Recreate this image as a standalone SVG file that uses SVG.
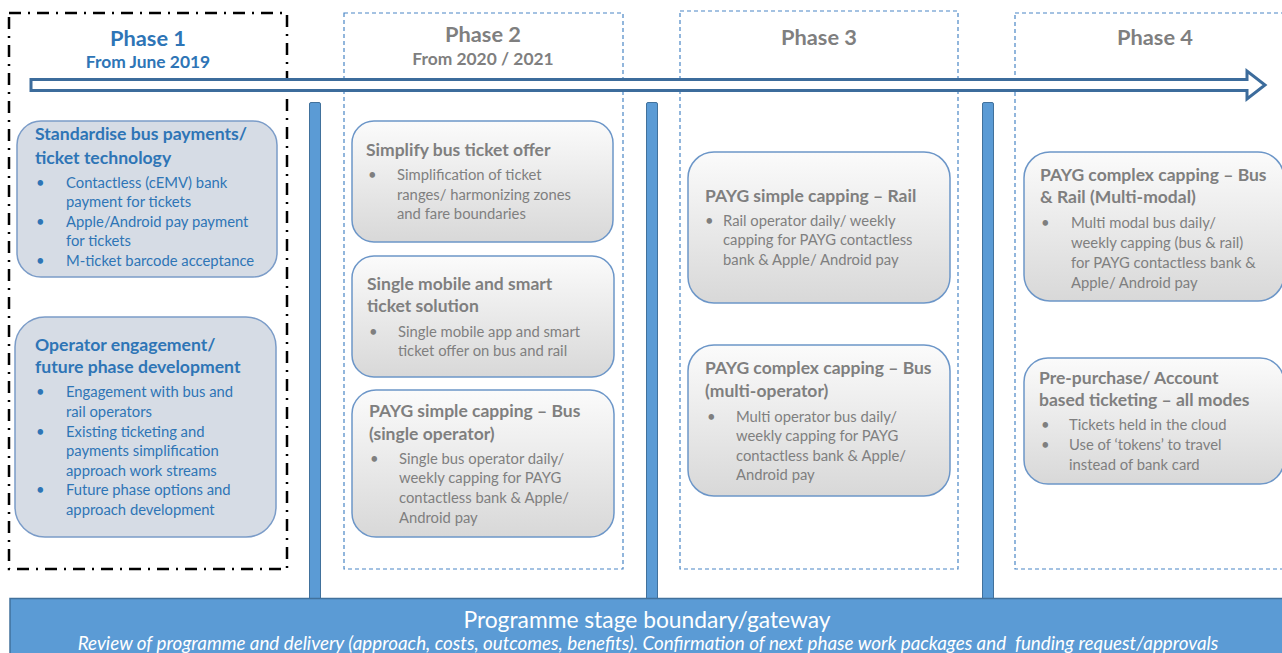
<svg xmlns="http://www.w3.org/2000/svg" width="1282" height="653" viewBox="0 0 1282 653">
  <defs>
    <linearGradient id="grey-fill" x1="0" y1="0" x2="0" y2="1">
      <stop offset="0" stop-color="#fbfbfb"/>
      <stop offset="1" stop-color="#d8d8d8"/>
    </linearGradient>
    <style>
      .phase-frame { fill: none; stroke: #4a86c5; stroke-width: 1.2; stroke-dasharray: 4 3; }
      .phase1-frame { fill: none; stroke: #000; stroke-width: 2.5; stroke-dasharray: 12 7 2 7; }
      .bar { fill: #5b9bd5; stroke: #41719c; stroke-width: 1; }
      .card-blue { fill: #d6dce5; stroke: #7b9cc8; stroke-width: 1.5; }
      .card-grey { fill: url(#grey-fill); stroke: #6c96c8; stroke-width: 1.5; }
      text { font-family: Lato, "Liberation Sans", sans-serif; }
      .ph-blue { fill: #2e75b6; font-weight: bold; text-anchor: middle; }
      .ph-grey { fill: #7f7f7f; font-weight: bold; text-anchor: middle; }
      .t-blue { fill: #2e75b6; font-weight: bold; font-size: 17.6px; }
      .b-blue { fill: #2e75b6; font-size: 14.8px; }
      .t-grey { fill: #7f7f7f; font-weight: bold; font-size: 17.5px; }
      .b-grey { fill: #7f7f7f; font-size: 14.8px; }
      .gate-title { fill: #fff; font-size: 22.8px; text-anchor: middle; }
      .gate-sub { fill: #fff; font-size: 18.8px; font-style: italic; text-anchor: middle; white-space: pre; }
    </style>
  </defs>

  <rect width="1282" height="653" fill="#fff"/>

  <!-- phase frames -->
  <g id="phase-frames">
    <rect class="phase1-frame" x="9" y="13" width="278" height="556"/>
    <rect class="phase-frame" x="344" y="13" width="279" height="556"/>
    <rect class="phase-frame" x="680" y="11" width="278" height="558"/>
    <rect class="phase-frame" x="1015" y="13" width="280" height="556"/>
  </g>

  <!-- phase headings -->
  <g id="phase-1-heading">
    <text class="ph-blue" x="148" y="46" font-size="21.8">Phase 1</text>
    <text class="ph-blue" x="148" y="68" font-size="17.4">From June 2019</text>
  </g>
  <g id="phase-2-heading">
    <text class="ph-grey" x="483" y="42" font-size="21.8">Phase 2</text>
    <text class="ph-grey" x="483" y="65" font-size="17.4">From 2020 / 2021</text>
  </g>
  <g id="phase-3-heading">
    <text class="ph-grey" x="819" y="45" font-size="21.8">Phase 3</text>
  </g>
  <g id="phase-4-heading">
    <text class="ph-grey" x="1155" y="45" font-size="21.8">Phase 4</text>
  </g>

  <!-- timeline arrow and gateway bars -->
  <g id="connectors">
    <path d="M31,79.5 H1247 V71 L1265,85 L1247,99 V90.5 H31 Z" fill="#fff" stroke="#3c6c9c" stroke-width="3" stroke-linejoin="miter"/>
    <rect class="bar" x="309.5" y="102.5" width="11" height="500" rx="1.5"/>
    <rect class="bar" x="646.5" y="102.5" width="11" height="500" rx="1.5"/>
    <rect class="bar" x="982.5" y="102.5" width="11" height="500" rx="1.5"/>
  </g>

  <!-- programme gateway band -->
  <g id="gateway">
    <rect x="10" y="598.5" width="1280" height="60" fill="#5b9bd5" stroke="#41719c" stroke-width="1.5"/>
    <text class="gate-title" x="647" y="628">Programme stage boundary/gateway</text>
    <text class="gate-sub" x="648" y="650">Review of programme and delivery (approach, costs, outcomes, benefits). Confirmation of next phase work packages and  funding request/approvals</text>
  </g>

  <!-- Phase 1 -->
  <g id="standardise-bus-payments">
    <rect class="card-blue" x="17" y="121" width="260" height="156" rx="24"/>
    <text class="t-blue" x="35" y="140">Standardise bus payments/</text>
    <text class="t-blue" x="35" y="164">ticket technology</text>
    <text class="b-blue" x="36" y="188">•</text>
    <text class="b-blue" x="66" y="188">Contactless (cEMV) bank</text>
    <text class="b-blue" x="66" y="207">payment for tickets</text>
    <text class="b-blue" x="36" y="227">•</text>
    <text class="b-blue" x="66" y="227">Apple/Android pay payment</text>
    <text class="b-blue" x="66" y="246">for tickets</text>
    <text class="b-blue" x="36" y="266">•</text>
    <text class="b-blue" x="66" y="266">M-ticket barcode acceptance</text>
  </g>
  <g id="operator-engagement">
    <rect class="card-blue" x="15" y="317" width="261" height="220" rx="30"/>
    <text class="t-blue" x="35" y="351">Operator engagement/</text>
    <text class="t-blue" x="35" y="373">future phase development</text>
    <text class="b-blue" x="36" y="397">•</text>
    <text class="b-blue" x="66" y="397">Engagement with bus and</text>
    <text class="b-blue" x="66" y="417">rail operators</text>
    <text class="b-blue" x="36" y="437">•</text>
    <text class="b-blue" x="66" y="437">Existing ticketing and</text>
    <text class="b-blue" x="66" y="456">payments simplification</text>
    <text class="b-blue" x="66" y="476">approach work streams</text>
    <text class="b-blue" x="36" y="495">•</text>
    <text class="b-blue" x="66" y="495">Future phase options and</text>
    <text class="b-blue" x="66" y="515">approach development</text>
  </g>

  <!-- Phase 2 -->
  <g id="simplify-bus-ticket-offer">
    <rect class="card-grey" x="352" y="121" width="261" height="121" rx="22"/>
    <text class="t-grey" x="366" y="156">Simplify bus ticket offer</text>
    <text class="b-grey" x="368" y="180">•</text>
    <text class="b-grey" x="397" y="180">Simplification of ticket</text>
    <text class="b-grey" x="397" y="200">ranges/ harmonizing zones</text>
    <text class="b-grey" x="397" y="219">and fare boundaries</text>
  </g>
  <g id="single-mobile-smart">
    <rect class="card-grey" x="352" y="256" width="262" height="121" rx="22"/>
    <text class="t-grey" x="367" y="290">Single mobile and smart</text>
    <text class="t-grey" x="367" y="312">ticket solution</text>
    <text class="b-grey" x="369" y="337">•</text>
    <text class="b-grey" x="398" y="337">Single mobile app and smart</text>
    <text class="b-grey" x="398" y="356">ticket offer on bus and rail</text>
  </g>
  <g id="payg-simple-bus">
    <rect class="card-grey" x="352" y="390" width="262" height="147" rx="24"/>
    <text class="t-grey" x="369" y="417">PAYG simple capping – Bus</text>
    <text class="t-grey" x="369" y="440">(single operator)</text>
    <text class="b-grey" x="370" y="464">•</text>
    <text class="b-grey" x="399" y="464">Single bus operator daily/</text>
    <text class="b-grey" x="399" y="483">weekly capping for PAYG</text>
    <text class="b-grey" x="399" y="503">contactless bank &amp; Apple/</text>
    <text class="b-grey" x="399" y="523">Android pay</text>
  </g>

  <!-- Phase 3 -->
  <g id="payg-simple-rail">
    <rect class="card-grey" x="688" y="152" width="262" height="151" rx="26"/>
    <text class="t-grey" x="705" y="202">PAYG simple capping – Rail</text>
    <text class="b-grey" x="705" y="226">•</text>
    <text class="b-grey" x="723" y="226">Rail operator daily/ weekly</text>
    <text class="b-grey" x="723" y="245">capping for PAYG contactless</text>
    <text class="b-grey" x="723" y="265">bank &amp; Apple/ Android pay</text>
  </g>
  <g id="payg-complex-bus">
    <rect class="card-grey" x="688" y="345" width="262" height="151" rx="26"/>
    <text class="t-grey" x="705" y="374">PAYG complex capping – Bus</text>
    <text class="t-grey" x="705" y="397">(multi-operator)</text>
    <text class="b-grey" x="707" y="422">•</text>
    <text class="b-grey" x="736" y="422">Multi operator bus daily/</text>
    <text class="b-grey" x="736" y="441">weekly capping for PAYG</text>
    <text class="b-grey" x="736" y="461">contactless bank &amp; Apple/</text>
    <text class="b-grey" x="736" y="480">Android pay</text>
  </g>

  <!-- Phase 4 -->
  <g id="payg-complex-multimodal">
    <rect class="card-grey" x="1024" y="152" width="260" height="149" rx="26"/>
    <text class="t-grey" x="1040" y="181">PAYG complex capping – Bus</text>
    <text class="t-grey" x="1040" y="203">&amp; Rail (Multi-modal)</text>
    <text class="b-grey" x="1041" y="228">•</text>
    <text class="b-grey" x="1071" y="228">Multi modal bus daily/</text>
    <text class="b-grey" x="1071" y="248">weekly capping (bus &amp; rail)</text>
    <text class="b-grey" x="1071" y="268">for PAYG contactless bank &amp;</text>
    <text class="b-grey" x="1071" y="288">Apple/ Android pay</text>
  </g>
  <g id="pre-purchase-account">
    <rect class="card-grey" x="1024" y="358" width="260" height="126" rx="24"/>
    <text class="t-grey" x="1039" y="384">Pre-purchase/ Account</text>
    <text class="t-grey" x="1039" y="406">based ticketing – all modes</text>
    <text class="b-grey" x="1041" y="430">•</text>
    <text class="b-grey" x="1069" y="430">Tickets held in the cloud</text>
    <text class="b-grey" x="1041" y="450">•</text>
    <text class="b-grey" x="1069" y="450">Use of ‘tokens’ to travel</text>
    <text class="b-grey" x="1069" y="470">instead of bank card</text>
  </g>
</svg>
